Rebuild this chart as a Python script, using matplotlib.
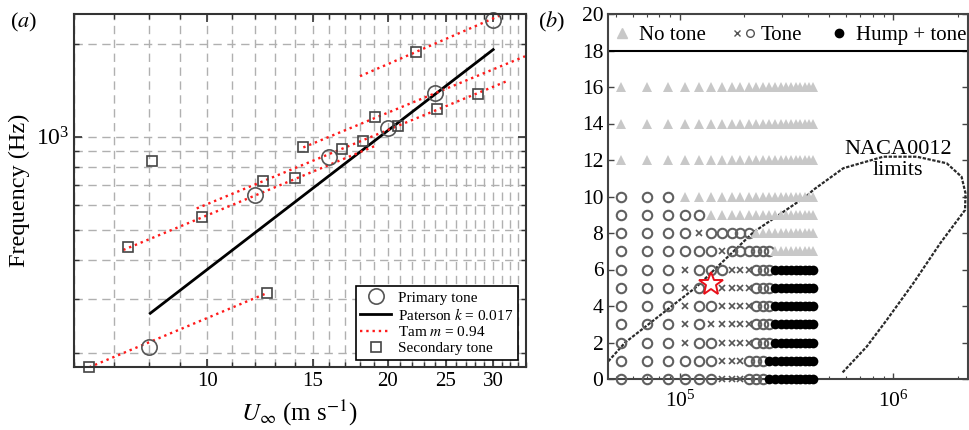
import numpy as np
import matplotlib
matplotlib.use('Agg')
import matplotlib.pyplot as plt
from matplotlib.ticker import FixedLocator, FixedFormatter, NullFormatter, LogLocator
from matplotlib.lines import Line2D
from matplotlib.legend_handler import HandlerTuple

plt.rcParams['font.family'] = ['Liberation Serif', 'DejaVu Serif']
plt.rcParams['mathtext.fontset'] = 'stix'

# (a) tone frequency against free-stream velocity
u_primary = [8, 12, 16, 20, 24, 30]
f_primary = [210, 650, 858, 1066, 1386, 2380]
u_secondary = [6.36, 7.37, 8.09, 9.81, 12.41, 12.6, 14.02, 14.47, 16.77, 18.18,
               19.05, 20.84, 22.3, 24.16, 28.33]
f_secondary = [180, 440, 837, 552, 720, 313, 734, 924, 911, 971,
               1160, 1083, 1876, 1226, 1380]
paterson_u = [8.04, 30]
paterson_f = [269, 1914]
tam_u = [[6.36, 12.6], [7.25, 19.2], [9.61, 31.9], [14.47, 33.9], [17.99, 31.1]]
tam_f = [[180, 313], [431, 940], [587, 1524], [924, 1821], [1570, 2488]]

# (b) regime map: Reynolds number columns and angle-of-attack rows
re_cols = np.array([53, 70, 88, 105, 123, 140, 157, 175, 192, 210, 227,
                    245, 262, 280, 297, 315, 332, 350, 367, 385, 402, 420]) * 1e3
row_aoa = [0, 1, 2, 3, 4, 5, 6, 7, 8, 9, 10, 12, 14, 16]
# o = tone (circle), x = tone (cross), t = no tone, h = hump + tone, - = none
row_codes = [
    'oooooo' + 'xxx' + 'ooo' + 'h' * 10,
    'oooooo' + 'xxx' + 'ooo' + 'h' * 10,
    'ooo' + 'x' + 'oo' + 'xxxx' + 'ooo' + 'h' * 9,
    'ooo' + 'x' + 'o' + 'xxxxx' + 'ooo' + 'h' * 9,
    'ooo' + 'x' + 'oo' + 'xxxx' + 'ooo' + 'h' * 9,
    'ooo' + 'x' + 'o' + '-' + 'xxxx' + 'ooo' + 'h' * 9,
    'ooo' + 'x' + 'ooo' + 'xxx' + 'ooo' + 'h' * 9,
    'oooooo' + 'x' + 'oooooo' + 't' * 9,
    'oooo' + 'x' + 'ooooo' + 't' * 12,
    'ooooo' + 't' * 17,
    'ooo' + 't' * 19,
    't' * 22,
    't' * 22,
    't' * 22,
]
star_re = [140e3]
star_aoa = [5.2]
naca_re = [46100, 55300, 119800, 220700, 392700, 421500, 583000, 897000,
           1.29e6, 1.78e6, 2.09e6, 2.18e6, 2.17e6, 1.66e6, 1.24e6,
           931000, 750000, 573000]
naca_aoa = [0.97, 2.0, 5.06, 8.04, 10.03, 10.36, 11.55, 12.18,
            12.18, 11.82, 11.08, 10.18, 9.26, 7.44, 5.24,
            3.23, 1.77, 0.31]

fig = plt.figure(figsize=(9.7, 4.3), dpi=100)
W, H = 970, 430
ax_a = fig.add_axes([74 / W, 1 - 367.3 / H, (525.8 - 74) / W, (367.3 - 14) / H])
ax_b = fig.add_axes([608.3 / W, 1 - 379 / H, (968 - 608.3) / W, (379 - 14) / H])

# ---- panel (a) ----
ax = ax_a
ax.set_xscale('log')
ax.set_yscale('log')
ax.set_xlim(6.0, 34.0)
ax.set_ylim(180, 2494)

ax.plot(paterson_u, paterson_f, color='k', lw=2.0, label='Paterson $k$ = 0.017')
for i, (uu, ff) in enumerate(zip(tam_u, tam_f)):
    ax.plot(uu, ff, color='#ff1a1a', ls=':', lw=1.7,
            label='Tam $m$ = 0.94' if i == 0 else None)
ax.plot(u_primary, f_primary, ls='none', marker='o', ms=11, mfc='none',
        mec='#555555', mew=1.2, clip_on=False, label='Primary tone')
ax.plot(u_secondary, f_secondary, ls='none', marker='s', ms=6.5, mfc='none',
        mec='#444444', mew=1.2, clip_on=False, label='Secondary tone')

ax.xaxis.set_major_locator(FixedLocator([10, 15, 20, 25, 30]))
ax.xaxis.set_major_formatter(FixedFormatter(['10', '15', '20', '25', '30']))
ax.xaxis.set_minor_locator(FixedLocator(list(range(6, 35))))
ax.xaxis.set_minor_formatter(NullFormatter())
ax.yaxis.set_major_locator(LogLocator(base=10))
ax.yaxis.set_minor_locator(LogLocator(base=10, subs=np.arange(2, 10)))
ax.yaxis.set_minor_formatter(NullFormatter())
ax.tick_params(which='both', direction='in', top=True, right=True,
               color='#333333')
ax.tick_params(axis='x', labelsize=15)
ax.tick_params(axis='y', labelsize=17)
ax.tick_params(which='major', length=6, width=1.2)
ax.tick_params(which='minor', length=3.5, width=1.0)
ax.grid(which='both', color='#b0b0b0', ls=(0, (6, 4)), lw=1.0)
ax.set_axisbelow(True)
for s in ax.spines.values():
    s.set_color('#333333')
    s.set_linewidth(1.5)

ax.set_ylabel('Frequency (Hz)', fontsize=17.5)
ax.yaxis.set_label_coords(-0.097, 0.5)
ax.set_xlabel(r'$U_\infty$ (m s$^{-1}$)', fontsize=18, labelpad=5)

handles, labels = ax.get_legend_handles_labels()
order = [labels.index(n) for n in
         ['Primary tone', 'Paterson $k$ = 0.017', 'Tam $m$ = 0.94', 'Secondary tone']]
leg = ax.legend([handles[i] for i in order], [labels[i] for i in order],
                loc='lower right', fontsize=11, fancybox=False, framealpha=1,
                edgecolor='k', borderaxespad=0.5, handlelength=2.0,
                handletextpad=0.5, labelspacing=0.15, borderpad=0.3)
leg.get_frame().set_linewidth(1.2)

# ---- panel (b) ----
ax = ax_b
ax.set_xscale('log')
ax.set_xlim(46100, 2.24e6)
ax.set_ylim(0, 20)

styles = {
    'o': dict(marker='o', ms=6.8, mfc='none', mec='#606060', mew=1.5),
    'x': dict(marker='x', ms=4.5, color='#555555', mew=1.2),
    't': dict(marker='^', ms=7.5, color='#c8c8c8', mew=0),
    'h': dict(marker='o', ms=7.0, color='k', mew=0),
}
for code, st in styles.items():
    xs, ys = [], []
    for aoa, codes in zip(row_aoa, row_codes):
        for re, c in zip(re_cols, codes):
            if c == code:
                xs.append(re)
                ys.append(aoa)
    ax.plot(xs, ys, ls='none', clip_on=False, zorder=3, **st)

ax.plot(star_re, star_aoa, ls='none', marker='*', ms=18, mfc='white',
        mec='#e8101a', mew=1.4, zorder=4)
ax.plot(naca_re, naca_aoa, color='#2a2a2a', lw=1.6, ls=(0, (1.5, 0.7)),
        zorder=2)
ax.text(1.05e6, 12.0, 'NACA0012\nlimits', ha='center', va='center',
        fontsize=16, linespacing=1.1)
ax.axhline(18, color='k', lw=1.5)

ax.set_yticks(np.arange(0, 21, 2))
ax.tick_params(which='both', direction='in', top=True, right=True,
               labelsize=15.5, color='#444444')
ax.tick_params(which='major', length=4, width=1.0)
ax.tick_params(which='minor', length=2.5, width=0.8)
ax.tick_params(axis='x', pad=8)
for s in ax.spines.values():
    s.set_color('#444444')
    s.set_linewidth(1.5)

tri = Line2D([], [], ls='none', marker='^', color='#c8c8c8', ms=7)
cross = Line2D([], [], ls='none', marker='x', color='#555555', ms=4.5, mew=1.0)
circ = Line2D([], [], ls='none', marker='o', mfc='none', mec='#555555', ms=5.5, mew=1.0)
dot = Line2D([], [], ls='none', marker='o', color='k', ms=6)
ax.legend([tri, (cross, circ), dot], ['No tone', 'Tone', 'Hump + tone'],
          handler_map={tuple: HandlerTuple(ndivide=None, pad=0.0)},
          loc='upper center', bbox_to_anchor=(0.5, 1.0), ncol=3, frameon=False,
          fontsize=15, handlelength=1.2, handletextpad=0.2, columnspacing=1.2,
          borderaxespad=0.15)

fig.text(10 / W, 1 - 22 / H, '($a$)', fontsize=16, va='center')
fig.text(538 / W, 1 - 22 / H, '($b$)', fontsize=16, va='center')

fig.savefig('out.png', dpi=100)
